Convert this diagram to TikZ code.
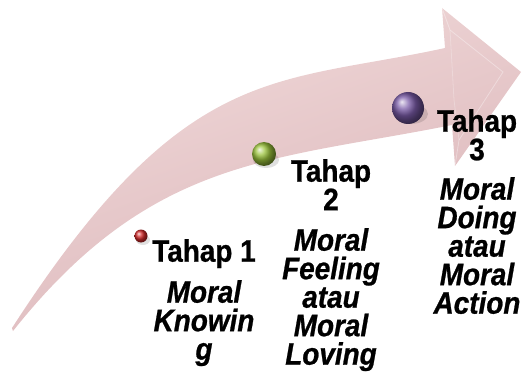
\documentclass[tikz,border=0pt]{standalone}
\usepackage{fontspec}
\setmainfont{Liberation Sans}
\newfontfamily\labelfont[FakeStretch=0.9,FakeBold=0.8]{Liberation Sans}
\definecolor{arrowlight}{HTML}{F1DADA}
\definecolor{arrowdark}{HTML}{DAB4B8}
\definecolor{ballred}{HTML}{D22A2A}
\definecolor{ballgreen}{HTML}{9CC43C}
\definecolor{ballpurple}{HTML}{7A5BA8}
\begin{document}
\begin{tikzpicture}[x=1pt,y=-1pt,
  title/.style={font=\labelfont\bfseries\fontsize{31}{28.5}\selectfont, align=center, inner sep=0pt, anchor=north},
  desc/.style={font=\labelfont\bfseries\itshape\fontsize{31}{28.5}\selectfont, align=center, inner sep=0pt, anchor=north},
  sphere/.style={circle, inner sep=0pt, shading=ball},
  ballshadow/.style={fill=black, opacity=0.12}]
\useasboundingbox (0,0) rectangle (526,379);
% arrow body
\shade[top color=arrowlight, bottom color=arrowdark, shading angle=20]
  (12,328) .. controls (185,60) and (275,85) .. (445,48)
  -- (442,8) -- (521,72) -- (455,166) -- (452,125)
  .. controls (272,161) and (152,156) .. (13,331) -- cycle;
% bevel highlights on the head
\draw[white, opacity=0.35, line width=0.8pt] (442,8) -- (450,30) -- (503,72) -- (459,140) -- (455,166);
\draw[white, opacity=0.25, line width=0.8pt] (450,30) -- (454,100) -- (459,140);
% ball shadows
\fill[ballshadow] (143,240) ellipse (7 and 5);
\fill[ballshadow] (266,160) ellipse (13 and 8);
\fill[ballshadow] (411,114) ellipse (17 and 10);
% balls
\node[sphere, ball color=ballred, minimum size=13pt] (b1) at (141,236) {};
\node[sphere, ball color=ballgreen, minimum size=24pt] (b2) at (264,154) {};
\node[sphere, ball color=ballpurple, minimum size=32pt] (b3) at (408,108) {};
% texts
\node[title] (t1) at (204,239) {Tahap 1};
\node[desc] (d1) at (204,280) {Moral\\Knowin\\g};
\node[title] (t2) at (331,159) {Tahap\\2};
\node[desc] (d2) at (331,228) {Moral\\Feeling\\atau\\Moral\\Loving};
\node[title] (t3) at (477,109) {Tahap\\3};
\node[desc] (d3) at (477,177) {Moral\\Doing\\atau\\Moral\\Action};
\end{tikzpicture}
\end{document}
